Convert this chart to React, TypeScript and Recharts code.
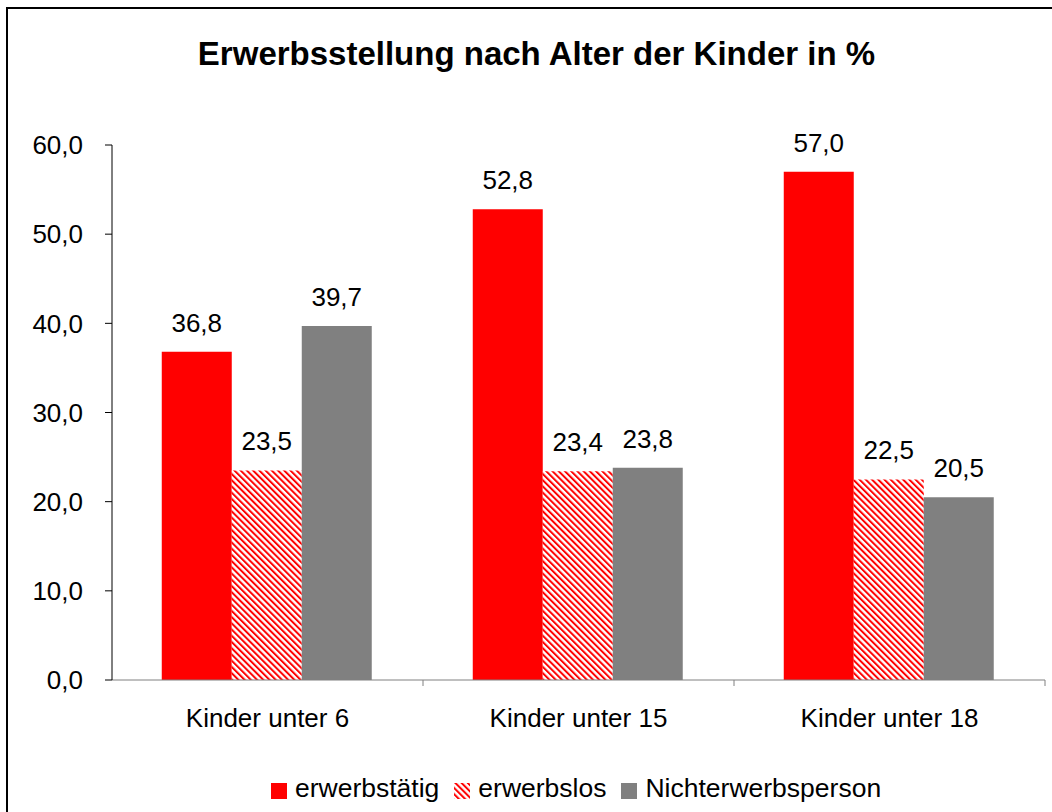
import { BarChart, Bar, XAxis, YAxis, LabelList } from "recharts";

const categories = ["Kinder unter 6", "Kinder unter 15", "Kinder unter 18"];
const erwerbstaetig = [36.8, 52.8, 57.0];
const erwerbslos = [23.5, 23.4, 22.5];
const nichterwerbsperson = [39.7, 23.8, 20.5];
const yTicks = [0, 10, 20, 30, 40, 50, 60];

const data = categories.map((name, i) => ({
  name,
  erwerbstaetig: erwerbstaetig[i],
  erwerbslos: erwerbslos[i],
  nichterwerbsperson: nichterwerbsperson[i],
}));

const FONT = "'Liberation Sans', Arial, sans-serif";
const fmt = (v: any) => Number(v).toFixed(1).replace(".", ",");

const W = 1044;
const H = 803;
const Y_WIDTH = 100;
const X_HEIGHT = 40;
const MARGIN = { top: 136, right: 7, bottom: 803 - 671 - X_HEIGHT, left: 104 - Y_WIDTH };
const BAND = (W - 104 - MARGIN.right) / categories.length;

function XTick(props: any) {
  const { x, y, payload } = props;
  return (
    <g>
      <line x1={x + BAND / 2} y1={y} x2={x + BAND / 2} y2={y + 6} stroke="#808080" />
      <text x={x} y={y + 47} textAnchor="middle" fontSize={26} fontFamily={FONT} fill="#000">
        {payload.value}
      </text>
    </g>
  );
}

const legendItems = [
  { label: "erwerbstätig", fill: "#ff0000" },
  { label: "erwerbslos", fill: "url(#hatchLegend)" },
  { label: "Nichterwerbsperson", fill: "#808080" },
];

function HatchDefs({ id }: { id: string }) {
  return (
    <pattern id={id} patternUnits="userSpaceOnUse" width={4.4} height={4.4} patternTransform="rotate(-45)">
      <rect width={4.4} height={4.4} fill="#fff" />
      <rect width={2} height={4.4} fill="#ff0000" />
    </pattern>
  );
}

function ChartLegend() {
  return (
    <div
      style={{
        position: "absolute",
        left: 263,
        top: 764,
        display: "flex",
        alignItems: "flex-start",
        fontFamily: FONT,
        fontSize: 26.5,
        lineHeight: "30px",
        whiteSpace: "nowrap",
      }}
    >
      {legendItems.map((it) => (
        <div key={it.label} style={{ display: "flex", alignItems: "flex-start", marginRight: 15 }}>
          <svg width={16} height={16} style={{ marginTop: 10, marginRight: 8 }}>
            <defs>
              <HatchDefs id="hatchLegend" />
            </defs>
            <rect width={16} height={16} fill={it.fill} />
          </svg>
          <span>{it.label}</span>
        </div>
      ))}
    </div>
  );
}

export default function App() {
  return (
    <div
      style={{
        position: "fixed",
        left: 6,
        top: 7,
        width: 1060,
        height: 820,
        border: "2px solid #000",
        background: "#fff",
      }}
    >
      <div
        style={{
          position: "absolute",
          top: 26,
          left: 0,
          width: 1057,
          textAlign: "center",
          fontFamily: FONT,
          fontWeight: "bold",
          fontSize: 33,
          whiteSpace: "nowrap",
        }}
      >
        Erwerbsstellung nach Alter der Kinder in %
      </div>
      <BarChart width={W} height={H} data={data} margin={MARGIN} barGap={0} barCategoryGap="16%">
        <defs>
          <HatchDefs id="hatch" />
        </defs>
        <XAxis
          dataKey="name"
          height={X_HEIGHT}
          tick={<XTick />}
          tickLine={false}
          tickSize={0}
          tickMargin={0}
          axisLine={{ stroke: "#808080" }}
          interval={0}
        />
        <YAxis
          width={Y_WIDTH}
          domain={[0, 60]}
          ticks={yTicks}
          tickFormatter={fmt}
          tickSize={7}
          tickMargin={22}
          axisLine={{ stroke: "#000" }}
          tickLine={{ stroke: "#000" }}
          tick={{ fill: "#000", fontSize: 26, fontFamily: FONT }}
          interval={0}
        />
        <Bar dataKey="erwerbstaetig" fill="#ff0000" isAnimationActive={false}>
          <LabelList dataKey="erwerbstaetig" position="top" offset={20} formatter={fmt} fill="#000" fontSize={26} fontFamily={FONT} />
        </Bar>
        <Bar dataKey="erwerbslos" fill="url(#hatch)" isAnimationActive={false}>
          <LabelList dataKey="erwerbslos" position="top" offset={20} formatter={fmt} fill="#000" fontSize={26} fontFamily={FONT} />
        </Bar>
        <Bar dataKey="nichterwerbsperson" fill="#808080" isAnimationActive={false}>
          <LabelList dataKey="nichterwerbsperson" position="top" offset={20} formatter={fmt} fill="#000" fontSize={26} fontFamily={FONT} />
        </Bar>
      </BarChart>
      <ChartLegend />
    </div>
  );
}
